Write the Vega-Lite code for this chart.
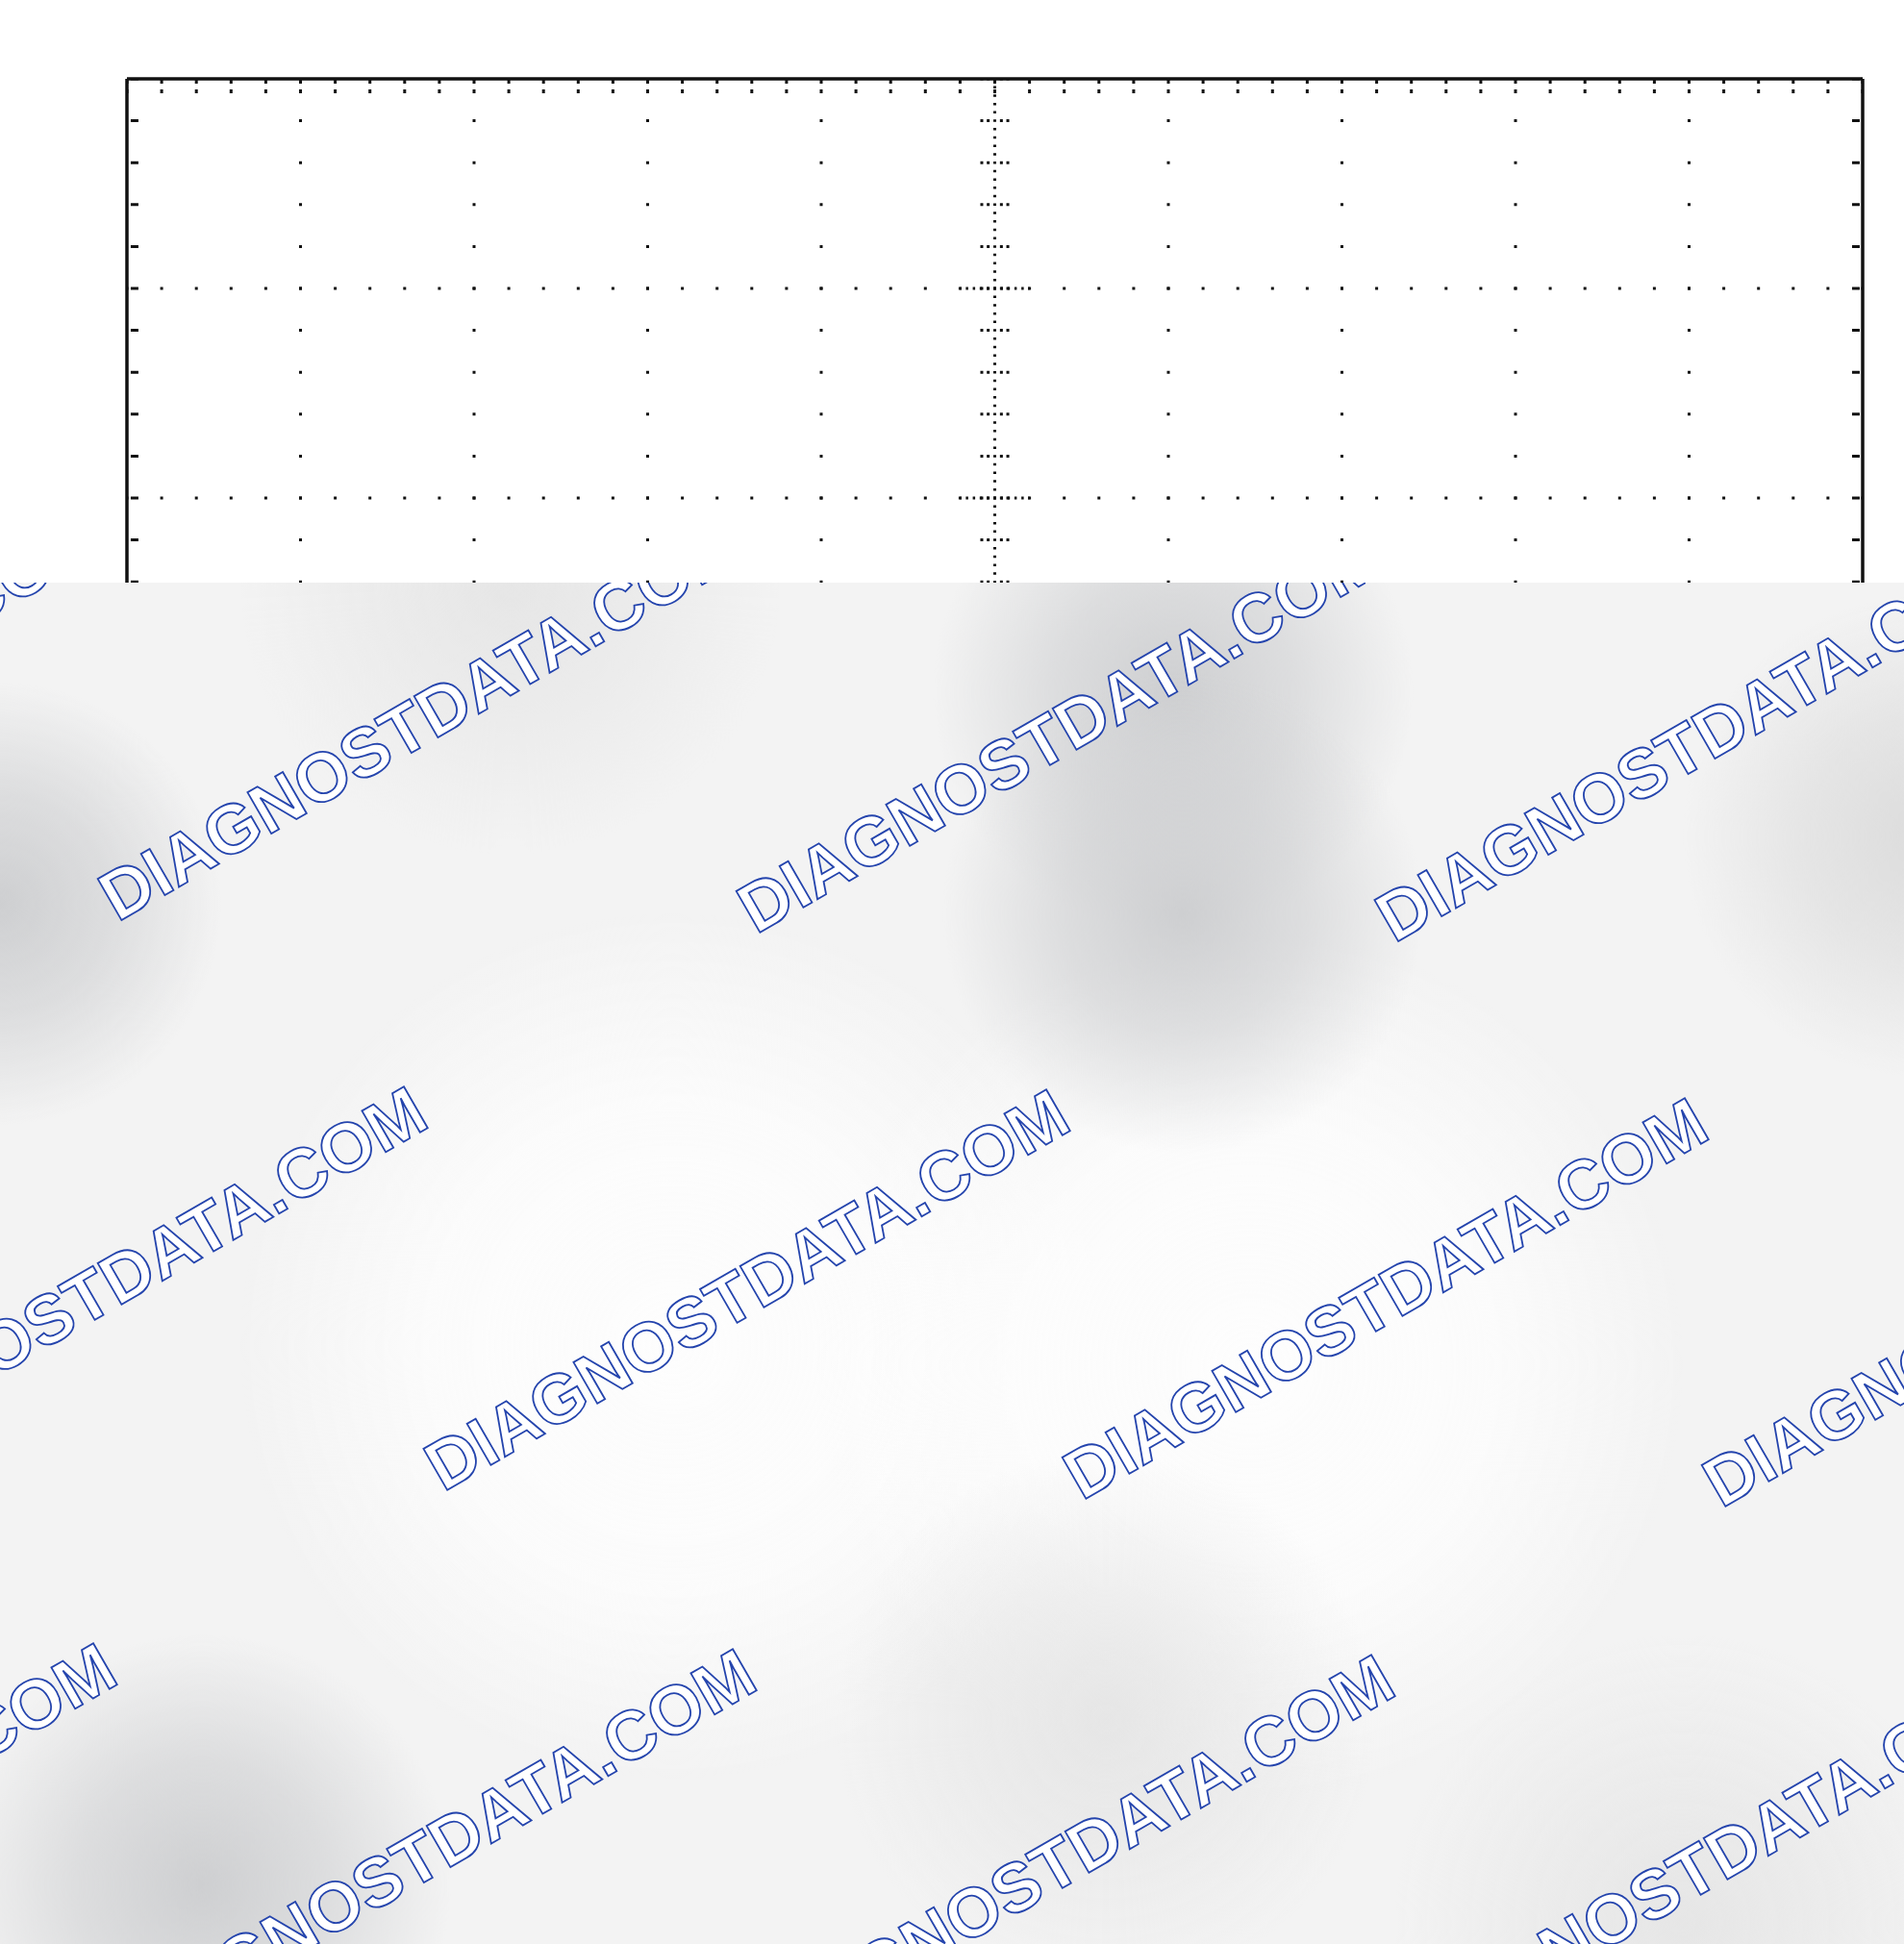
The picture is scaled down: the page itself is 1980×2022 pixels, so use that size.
{
  "$schema": "https://vega.github.io/schema/vega-lite/v6.json",
  "width": 1980,
  "height": 2022,
  "autosize": {"type": "fit", "contains": "padding"},
  "padding": 0,
  "background": "white",
  "config": {"view": {"stroke": null}},
  "datasets": {
    "frame": [
      {"x0": 0, "x1": 10, "y0": 8, "y1": 8},
      {"x0": 0, "x1": 0, "y0": 8, "y1": 5.596},
      {"x0": 10, "x1": 10, "y0": 8, "y1": 5.596}
    ],
    "vmajor": [{"d": 1}, {"d": 2}, {"d": 3}, {"d": 4}, {"d": 6}, {"d": 7}, {"d": 8}, {"d": 9}],
    "hmajor": [{"v": 7}, {"v": 6}],
    "centre": [{"d": 5}],
    "centreTicks": [{"d": 4.925}, {"d": 4.962}, {"d": 5.038}, {"d": 5.075}],
    "topTicks": [{"v": 7.9862}, {"v": 7.9404}],
    "sideTicks": [{"d": 0.044}, {"d": 9.961}],
    "overlay": [{"x0": -0.7313, "x1": 10.2382, "y0": -0.8991, "y1": 5.596}],
    "top": [{"x0": -0.7313, "x1": 10.2382, "y0": 5.596, "y1": 8.3761}],
    "shadeWhite": [
      {"x0": 0.654, "x1": 5.64, "y0": -0.11, "y1": 4.018},
      {"x0": 3.978, "x1": 8.964, "y0": -0.202, "y1": 3.926}
    ],
    "shadeFaint": [
      {"x0": 0.66, "x1": 3.76, "y0": 4.3, "y1": 6.87},
      {"x0": 4.089, "x1": 7.191, "y0": -1.119, "y1": 1.449},
      {"x0": 7.302, "x1": 10.626, "y0": -2.174, "y1": 0.578}
    ],
    "shadeLight": [
      {"x0": 8.964, "x1": 11.734, "y0": 3.238, "y1": 5.532}
    ],
    "shadeDark": [
      {"x0": 4.643, "x1": 7.413, "y0": 3.926, "y1": 6.22},
      {"x0": 4.698, "x1": 7.468, "y0": 2.871, "y1": 5.165},
      {"x0": -2.005, "x1": 0.543, "y0": 3.009, "y1": 5.119},
      {"x0": -1.008, "x1": 1.872, "y0": -1.808, "y1": 0.578}
    ],
    "marks": [
      {"d": -1.983, "v": 4.972, "label": "DIAGNOSTDATA.COM"},
      {"d": 1.701, "v": 4.931, "label": "DIAGNOSTDATA.COM"},
      {"d": 5.38, "v": 4.872, "label": "DIAGNOSTDATA.COM"},
      {"d": 9.058, "v": 4.83, "label": "DIAGNOSTDATA.COM"},
      {"d": -0.122, "v": 2.225, "label": "DIAGNOSTDATA.COM"},
      {"d": 3.579, "v": 2.211, "label": "DIAGNOSTDATA.COM"},
      {"d": 7.258, "v": 2.17, "label": "DIAGNOSTDATA.COM"},
      {"d": 10.942, "v": 2.133, "label": "DIAGNOSTDATA.COM"},
      {"d": -1.911, "v": -0.431, "label": "DIAGNOSTDATA.COM"},
      {"d": 1.773, "v": -0.459, "label": "DIAGNOSTDATA.COM"},
      {"d": 5.452, "v": -0.486, "label": "DIAGNOSTDATA.COM"},
      {"d": 9.13, "v": -0.518, "label": "DIAGNOSTDATA.COM"}
    ]
  },
  "layer": [
    {
      "data": {"name": "overlay"},
      "mark": {"type": "rect", "fill": "#f3f3f3"},
      "encoding": {
        "x": {"field": "x0", "type": "quantitative", "scale": {"domain": [-0.7313, 10.2382], "nice": false, "zero": false}, "axis": null},
        "x2": {"field": "x1"},
        "y": {"field": "y0", "type": "quantitative", "scale": {"domain": [-0.8991, 8.3761], "nice": false, "zero": false}, "axis": null},
        "y2": {"field": "y1"}
      }
    },
    {
      "data": {"name": "shadeWhite"},
      "mark": {"type": "rect", "clip": true,
        "fill": {"gradient": "radial", "x1": 0.5, "y1": 0.5, "x2": 0.5, "y2": 0.5, "r1": 0, "r2": 0.5,
          "stops": [{"offset": 0, "color": "rgba(253,253,253,1)"}, {"offset": 0.55, "color": "rgba(253,253,253,0.85)"}, {"offset": 1, "color": "rgba(253,253,253,0)"}]}},
      "encoding": {
        "x": {"field": "x0", "type": "quantitative", "scale": {"domain": [-0.7313, 10.2382], "nice": false, "zero": false}, "axis": null},
        "x2": {"field": "x1"},
        "y": {"field": "y0", "type": "quantitative", "scale": {"domain": [-0.8991, 8.3761], "nice": false, "zero": false}, "axis": null},
        "y2": {"field": "y1"}
      }
    },
    {
      "data": {"name": "shadeFaint"},
      "mark": {"type": "rect", "clip": true,
        "fill": {"gradient": "radial", "x1": 0.5, "y1": 0.5, "x2": 0.5, "y2": 0.5, "r1": 0, "r2": 0.5,
          "stops": [{"offset": 0, "color": "rgba(230,230,230,1)"}, {"offset": 0.5, "color": "rgba(230,230,230,0.55)"}, {"offset": 1, "color": "rgba(230,230,230,0)"}]}},
      "encoding": {
        "x": {"field": "x0", "type": "quantitative", "scale": {"domain": [-0.7313, 10.2382], "nice": false, "zero": false}, "axis": null},
        "x2": {"field": "x1"},
        "y": {"field": "y0", "type": "quantitative", "scale": {"domain": [-0.8991, 8.3761], "nice": false, "zero": false}, "axis": null},
        "y2": {"field": "y1"}
      }
    },
    {
      "data": {"name": "shadeLight"},
      "mark": {"type": "rect", "clip": true,
        "fill": {"gradient": "radial", "x1": 0.5, "y1": 0.5, "x2": 0.5, "y2": 0.5, "r1": 0, "r2": 0.5,
          "stops": [{"offset": 0, "color": "rgba(220,220,220,1)"}, {"offset": 0.5, "color": "rgba(220,220,220,0.6)"}, {"offset": 1, "color": "rgba(220,220,220,0)"}]}},
      "encoding": {
        "x": {"field": "x0", "type": "quantitative", "scale": {"domain": [-0.7313, 10.2382], "nice": false, "zero": false}, "axis": null},
        "x2": {"field": "x1"},
        "y": {"field": "y0", "type": "quantitative", "scale": {"domain": [-0.8991, 8.3761], "nice": false, "zero": false}, "axis": null},
        "y2": {"field": "y1"}
      }
    },
    {
      "data": {"name": "shadeDark"},
      "mark": {"type": "rect", "clip": true,
        "fill": {"gradient": "radial", "x1": 0.5, "y1": 0.5, "x2": 0.5, "y2": 0.5, "r1": 0, "r2": 0.5,
          "stops": [{"offset": 0, "color": "rgba(206,207,209,1)"}, {"offset": 0.5, "color": "rgba(206,207,209,0.6)"}, {"offset": 1, "color": "rgba(206,207,209,0)"}]}},
      "encoding": {
        "x": {"field": "x0", "type": "quantitative", "scale": {"domain": [-0.7313, 10.2382], "nice": false, "zero": false}, "axis": null},
        "x2": {"field": "x1"},
        "y": {"field": "y0", "type": "quantitative", "scale": {"domain": [-0.8991, 8.3761], "nice": false, "zero": false}, "axis": null},
        "y2": {"field": "y1"}
      }
    },
    {
      "data": {"name": "marks"},
      "mark": {"type": "text", "clip": true, "angle": -30, "align": "center", "baseline": "middle",
        "font": "Liberation Sans", "fontWeight": "bold", "fontSize": 72,
        "fill": "white", "stroke": "#2444ad", "strokeWidth": 1.8},
      "encoding": {
        "x": {"field": "d", "type": "quantitative", "scale": {"domain": [-0.7313, 10.2382], "nice": false, "zero": false}, "axis": null},
        "y": {"field": "v", "type": "quantitative", "scale": {"domain": [-0.8991, 8.3761], "nice": false, "zero": false}, "axis": null},
        "text": {"field": "label"}
      }
    },
    {
      "data": {"name": "top"},
      "mark": {"type": "rect", "fill": "white"},
      "encoding": {
        "x": {"field": "x0", "type": "quantitative", "scale": {"domain": [-0.7313, 10.2382], "nice": false, "zero": false}, "axis": null},
        "x2": {"field": "x1"},
        "y": {"field": "y0", "type": "quantitative", "scale": {"domain": [-0.8991, 8.3761], "nice": false, "zero": false}, "axis": null},
        "y2": {"field": "y1"}
      }
    },
    {
      "data": {"name": "frame"},
      "mark": {"type": "rule", "color": "#111", "strokeWidth": 3.5},
      "encoding": {
        "x": {"field": "x0", "type": "quantitative", "scale": {"domain": [-0.7313, 10.2382], "nice": false, "zero": false}, "axis": null},
        "x2": {"field": "x1"},
        "y": {"field": "y0", "type": "quantitative", "scale": {"domain": [-0.8991, 8.3761], "nice": false, "zero": false}, "axis": null},
        "y2": {"field": "y1"}
      }
    },
    {
      "data": {"name": "vmajor"},
      "mark": {"type": "rule", "color": "#111", "strokeWidth": 3, "strokeDash": [3, 40.6], "strokeDashOffset": 1.5},
      "encoding": {
        "x": {"field": "d", "type": "quantitative", "scale": {"domain": [-0.7313, 10.2382], "nice": false, "zero": false}, "axis": null},
        "y": {"datum": 8, "type": "quantitative", "scale": {"domain": [-0.8991, 8.3761], "nice": false, "zero": false}, "axis": null},
        "y2": {"datum": 5.596}
      }
    },
    {
      "data": {"name": "hmajor"},
      "mark": {"type": "rule", "color": "#111", "strokeWidth": 3, "strokeDash": [3, 33.1], "strokeDashOffset": 1.5},
      "encoding": {
        "x": {"datum": 0, "type": "quantitative", "scale": {"domain": [-0.7313, 10.2382], "nice": false, "zero": false}, "axis": null},
        "x2": {"datum": 10},
        "y": {"field": "v", "type": "quantitative", "scale": {"domain": [-0.8991, 8.3761], "nice": false, "zero": false}, "axis": null}
      }
    },
    {
      "data": {"name": "hmajor"},
      "mark": {"type": "rule", "color": "#111", "strokeWidth": 3, "strokeDash": [2.5, 4.72], "strokeDashOffset": 1.25},
      "encoding": {
        "x": {"datum": 4.8, "type": "quantitative", "scale": {"domain": [-0.7313, 10.2382], "nice": false, "zero": false}, "axis": null},
        "x2": {"datum": 5.2},
        "y": {"field": "v", "type": "quantitative", "scale": {"domain": [-0.8991, 8.3761], "nice": false, "zero": false}, "axis": null}
      }
    },
    {
      "data": {"name": "centre"},
      "mark": {"type": "rule", "color": "#111", "strokeWidth": 3, "strokeDash": [2.5, 6.22], "strokeDashOffset": 1.25},
      "encoding": {
        "x": {"field": "d", "type": "quantitative", "scale": {"domain": [-0.7313, 10.2382], "nice": false, "zero": false}, "axis": null},
        "y": {"datum": 8, "type": "quantitative", "scale": {"domain": [-0.8991, 8.3761], "nice": false, "zero": false}, "axis": null},
        "y2": {"datum": 5.596}
      }
    },
    {
      "data": {"name": "centreTicks"},
      "mark": {"type": "rule", "color": "#111", "strokeWidth": 3, "strokeDash": [3, 40.6], "strokeDashOffset": 1.5},
      "encoding": {
        "x": {"field": "d", "type": "quantitative", "scale": {"domain": [-0.7313, 10.2382], "nice": false, "zero": false}, "axis": null},
        "y": {"datum": 8, "type": "quantitative", "scale": {"domain": [-0.8991, 8.3761], "nice": false, "zero": false}, "axis": null},
        "y2": {"datum": 5.596}
      }
    },
    {
      "data": {"name": "topTicks"},
      "mark": {"type": "rule", "color": "#111", "strokeWidth": 4, "strokeDash": [3, 33.1], "strokeDashOffset": 1.5},
      "encoding": {
        "x": {"datum": 0, "type": "quantitative", "scale": {"domain": [-0.7313, 10.2382], "nice": false, "zero": false}, "axis": null},
        "x2": {"datum": 10},
        "y": {"field": "v", "type": "quantitative", "scale": {"domain": [-0.8991, 8.3761], "nice": false, "zero": false}, "axis": null}
      }
    },
    {
      "data": {"name": "sideTicks"},
      "mark": {"type": "rule", "color": "#111", "strokeWidth": 8, "strokeDash": [3, 40.6], "strokeDashOffset": 1.5},
      "encoding": {
        "x": {"field": "d", "type": "quantitative", "scale": {"domain": [-0.7313, 10.2382], "nice": false, "zero": false}, "axis": null},
        "y": {"datum": 8, "type": "quantitative", "scale": {"domain": [-0.8991, 8.3761], "nice": false, "zero": false}, "axis": null},
        "y2": {"datum": 5.596}
      }
    }
  ]
}
